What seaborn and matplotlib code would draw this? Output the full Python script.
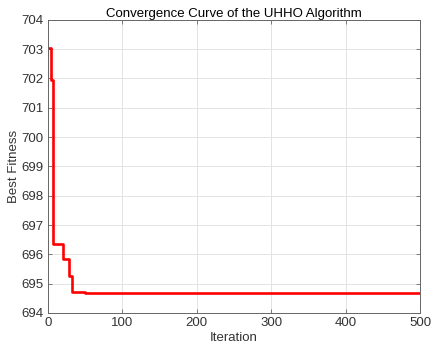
import matplotlib
matplotlib.use("Agg")
import matplotlib.pyplot as plt
import seaborn as sns
import pandas as pd

# Step breakpoints of the convergence curve (iteration where a new best value starts)
iterations = [1, 4, 7, 20, 29, 33, 50, 500]
best_fitness = [703.05, 701.95, 696.35, 695.83, 695.25, 694.70, 694.68, 694.68]

x_ticks = [0, 100, 200, 300, 400, 500]
y_ticks = [694, 695, 696, 697, 698, 699, 700, 701, 702, 703, 704]

df = pd.DataFrame({"Iteration": iterations, "Best Fitness": best_fitness})

sns.set_style("white")
plt.rcParams['font.family'] = ['Liberation Sans', 'DejaVu Sans']

fig = plt.figure(figsize=(4.34, 3.54), dpi=100)
ax = fig.add_axes([0.11, 0.116, 0.858, 0.828])

sns.lineplot(x="Iteration", y="Best Fitness", data=df, ax=ax,
             color="#ff0000", linewidth=1.9, drawstyle="steps-post")

ax.set_xlim(0, 500)
ax.set_ylim(694, 704)
ax.set_xticks(x_ticks)
ax.set_yticks(y_ticks)
ax.grid(True, color="#e3e3e3", linewidth=0.7)
ax.set_axisbelow(True)

for s in ax.spines.values():
    s.set_color("#666666")
    s.set_linewidth(0.7)

ax.tick_params(direction="in", length=3, width=0.6, color="#666666",
               labelsize=9.5, labelcolor="#333333", top=True, right=True,
               bottom=True, left=True, pad=3)

ax.set_title("Convergence Curve of the UHHO Algorithm", fontsize=9.5,
             color="#000000", pad=2)
ax.set_xlabel("Iteration", fontsize=9.5, color="#333333", labelpad=2)
ax.set_ylabel("Best Fitness", fontsize=9.5, color="#333333", labelpad=1)

fig.savefig("out.png", dpi=100)
